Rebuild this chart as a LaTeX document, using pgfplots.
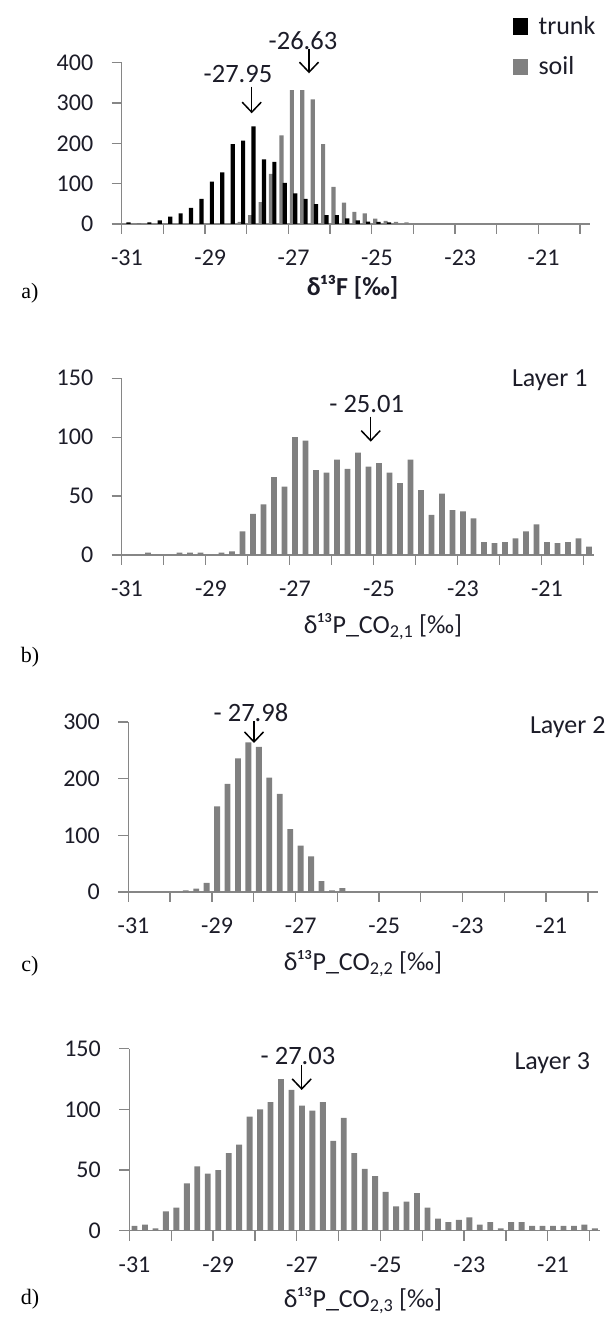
\documentclass[border=0pt]{standalone}
\usepackage{fontspec}
\setmainfont{Carlito}
\newfontfamily\serifletter{Liberation Serif}
\usepackage{pgfplots}
\pgfplotsset{compat=1.18}
\usetikzlibrary{arrows.meta}
\definecolor{axgray}{HTML}{868686}
\definecolor{bargray}{HTML}{808080}
\definecolor{txt}{HTML}{1C1C28}

\pgfplotsset{
  hist/.style={
    scale only axis,
    anchor=south west,
    xmin=-31.125, xmax=-19.875, ymin=0,
    enlargelimits=false,
    axis x line=bottom, axis y line=left,
    axis line style={axgray, line width=1.3pt, -},
    tick style={axgray, line width=1.3pt},
    tick align=outside,
    major tick length=10pt,
    xtick={-31.125,-30.125,-29.125,-28.125,-27.125,-26.125,-25.125,-24.125,-23.125,-22.125,-21.125,-20.125},
    xticklabels={},
    extra x ticks={-31,-29,-27,-25,-23,-21},
    extra x tick labels={-31,-29,-27,-25,-23,-21},
    extra x tick style={major tick length=0pt, tick style={draw=none},
      xticklabel style={anchor=base, yshift=-42pt}},
    /pgf/number format/assume math mode=true,
    ticklabel style={font=\fontsize{24}{28}\selectfont, text=txt},
    yticklabel style={anchor=east, xshift=-15pt},
    ybar, bar width=0.14,
    clip=false,
  },
}
\tikzset{lab/.style={font=\fontsize{26}{30}\selectfont, text=txt},
         arr/.style={black, line width=1.5pt, -{Straight Barb[length=10pt,width=19pt,line width=1.5pt]}},
         ann/.style={font=\fontsize{26.5}{30}\selectfont, text=txt},
         big/.style={font=\fontsize{26}{30}\selectfont, text=txt},
         let/.style={font=\serifletter\fontsize{22}{26}\selectfont}}

\begin{document}
\begin{tikzpicture}[x=1pt,y=1pt]
\useasboundingbox (0,0) rectangle (612,1321);

% ---------- a) ----------
\begin{axis}[hist, at={(121.7pt,1097pt)}, width=468.75pt, height=161.3pt,
  ymax=400, ytick={0,100,200,300,400}]
\addplot[fill=bargray, draw=none, bar width=0.1, bar shift=-0.04] coordinates {
(-28.5,0) (-28.25,5) (-28,22) (-27.75,54) (-27.5,124) (-27.25,220) (-27,332) (-26.75,332)
(-26.5,309) (-26.25,198) (-26,92) (-25.75,53) (-25.5,30) (-25.25,26) (-25,13)
(-24.75,8) (-24.5,5) (-24.25,4)};
\addplot[fill=black, draw=none, bar width=0.1, bar shift=0.04] coordinates {
(-31,4) (-30.75,0) (-30.5,4) (-30.25,9) (-30,18) (-29.75,26) (-29.5,40) (-29.25,62)
(-29,105) (-28.75,128) (-28.5,198) (-28.25,207) (-28,242) (-27.75,160) (-27.5,154)
(-27.25,102) (-27,76) (-26.75,62) (-26.5,49) (-26.25,22) (-26,22) (-25.75,14)
(-25.5,9) (-25.25,6) (-25,5) (-24.75,4)};
\end{axis}

% ---------- b) ----------
\begin{axis}[hist, at={(121.7pt,766pt)}, width=472.5pt, height=176.7pt,
  ymax=150, ytick={0,50,100,150}]
\addplot[fill=bargray, draw=none] coordinates {
(-31,0) (-30.75,0) (-30.5,2) (-30.25,0) (-30,0) (-29.75,2) (-29.5,2) (-29.25,2)
(-29,0) (-28.75,2) (-28.5,3) (-28.25,20) (-28,35) (-27.75,43) (-27.5,66) (-27.25,58)
(-27,100) (-26.75,97) (-26.5,72) (-26.25,70) (-26,81) (-25.75,73) (-25.5,87) (-25.25,75)
(-25,78) (-24.75,70) (-24.5,61) (-24.25,81) (-24,55) (-23.75,34) (-23.5,52) (-23.25,38)
(-23,37) (-22.75,31) (-22.5,11) (-22.25,10) (-22,11) (-21.75,14) (-21.5,20) (-21.25,26)
(-21,11) (-20.75,10) (-20.5,11) (-20.25,14) (-20,7)};
\end{axis}

% ---------- c) ----------
\begin{axis}[hist, at={(128.3pt,429pt)}, width=470pt, height=170pt,
  ymax=300, ytick={0,100,200,300}]
\addplot[fill=bargray, draw=none] coordinates {
(-29.75,3) (-29.5,6) (-29.25,16) (-29,151) (-28.75,191) (-28.5,236) (-28.25,264)
(-28,256) (-27.75,202) (-27.5,173) (-27.25,111) (-27,82) (-26.75,63) (-26.5,19)
(-26.25,3) (-26,7)};
\end{axis}

% ---------- d) ----------
\begin{axis}[hist, at={(129.3pt,90.3pt)}, width=470.8pt, height=182pt,
  ymax=150, ytick={0,50,100,150}]
\addplot[fill=bargray, draw=none] coordinates {
(-31,4) (-30.75,5) (-30.5,2) (-30.25,16) (-30,19) (-29.75,39) (-29.5,53) (-29.25,47)
(-29,50) (-28.75,64) (-28.5,71) (-28.25,94) (-28,100) (-27.75,106) (-27.5,125) (-27.25,116)
(-27,103) (-26.75,99) (-26.5,106) (-26.25,74) (-26,93) (-25.75,64) (-25.5,51) (-25.25,45)
(-25,32) (-24.75,20) (-24.5,24) (-24.25,31) (-24,19) (-23.75,10) (-23.5,7) (-23.25,9)
(-23,11) (-22.75,5) (-22.5,7) (-22.25,2) (-22,7) (-21.75,7) (-21.5,4) (-21.25,4)
(-21,4) (-20.75,4) (-20.5,4) (-20.25,5) (-20,2)};
\end{axis}

% ---------- annotations ----------
% a
\node[ann] at (238,1246.5) {-27.95};
\draw[arr] (251.7,1234.3) -- (251.7,1207.7);
\node[ann] at (303,1280) {-26.63};
\draw[arr] (309,1272) -- (309,1247.7);
\fill[black] (512.7,1286) rectangle (528.3,1302.7);
\node[big, anchor=base west] at (535,1286) {trunk};
\fill[bargray] (512.7,1246) rectangle (528.3,1262);
\node[big, anchor=base west] at (535,1246) {soil};
\node[lab, font=\fontsize{26}{30}\selectfont\bfseries] at (352.6,1034) {δ¹³F [‰]};
\node[let] at (30,1028) {a)};

% b
\node[ann] at (366.7,917) {- 25.01};
\draw[arr] (370.7,904.3) -- (370.7,879.3);
\node[big, anchor=base east] at (591,934.3) {Layer 1};
\node[lab] at (383,694) {δ¹³P\_CO\textsubscript{2,1} [‰]};
\node[let] at (30,664) {b)};

% c
\node[ann] at (251,608) {- 27.98};
\draw[arr] (254,600) -- (254,578);
\node[big, anchor=base east] at (609,587.6) {Layer 2};
\node[lab] at (363,357) {δ¹³P\_CO\textsubscript{2,2} [‰]};
\node[let] at (30,355) {c)};

% d
\node[ann] at (298,265) {- 27.03};
\draw[arr] (301.7,256) -- (301.7,231);
\node[big, anchor=base east] at (593.5,251) {Layer 3};
\node[lab] at (363,20) {δ¹³P\_CO\textsubscript{2,3} [‰]};
\node[let] at (30,22) {d)};
\end{tikzpicture}
\end{document}
